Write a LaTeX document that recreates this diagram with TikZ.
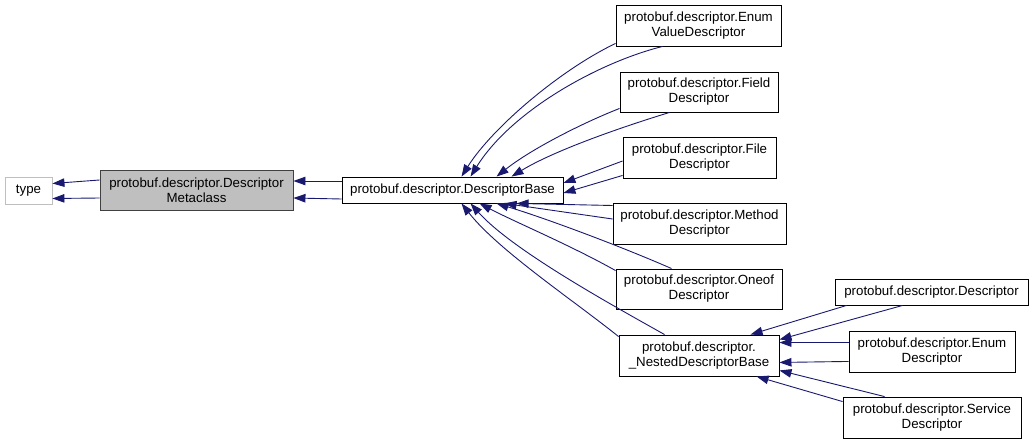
\documentclass[tikz,border=0pt]{standalone}
\usepackage{fontspec}
\setmainfont{Liberation Sans}
\usetikzlibrary{arrows.meta,calc}
\definecolor{edgeblue}{HTML}{191970}
\definecolor{metafill}{HTML}{BFBFBF}
\tikzset{
  box/.style={draw=black, line width=0.9pt, fill=white, inner sep=0pt, align=center,
    font=\fontsize{13.3}{15}\selectfont},
  inh/.style={draw=edgeblue, line width=0.9pt, -{Triangle[length=12pt,width=8.5pt]}},
}
\begin{document}
\begin{tikzpicture}[x=1pt,y=-1pt]
\useasboundingbox (0,0) rectangle (1035,444);
\node[box, draw=metafill, minimum width=47pt, minimum height=27pt] (type) at (28.5,190.5) {type};
\node[box, fill=metafill, draw=black!75, minimum width=193pt, minimum height=40pt] (meta) at (196.5,190) {protobuf.descriptor.Descriptor\\Metaclass};
\node[box, minimum width=221pt, minimum height=26pt] (base) at (452.5,190) {protobuf.descriptor.DescriptorBase};
\node[box, minimum width=165pt, minimum height=41pt] (enumval) at (698.5,25.5) {protobuf.descriptor.Enum\\ValueDescriptor};
\node[box, minimum width=158pt, minimum height=40pt] (field) at (699,92) {protobuf.descriptor.Field\\Descriptor};
\node[box, minimum width=153pt, minimum height=41pt] (file) at (699.5,157.5) {protobuf.descriptor.File\\Descriptor};
\node[box, minimum width=173pt, minimum height=41pt] (method) at (699.5,223.5) {protobuf.descriptor.Method\\Descriptor};
\node[box, minimum width=166pt, minimum height=40pt] (oneof) at (699,289) {protobuf.descriptor.Oneof\\Descriptor};
\node[box, minimum width=160pt, minimum height=41pt] (nested) at (699,355.5) {protobuf.descriptor.\\\_NestedDescriptorBase};
\node[box, minimum width=193pt, minimum height=26pt] (desc) at (931.5,292) {protobuf.descriptor.Descriptor};
\node[box, minimum width=166pt, minimum height=41pt] (enumdesc) at (932,351.5) {protobuf.descriptor.Enum\\Descriptor};
\node[box, minimum width=178pt, minimum height=41pt] (service) at (932,417.5) {protobuf.descriptor.Service\\Descriptor};

% Metaclass -> type
\draw[inh] ([yshift=10pt]meta.west) -- ([yshift=7pt]type.east);
\draw[inh] ([yshift=-8pt]meta.west) -- ([yshift=-8pt]type.east);
% Base -> Metaclass
\draw[inh] ([yshift=9pt]base.west) -- ([yshift=9pt]meta.east);
\draw[inh] ([yshift=-9pt]base.west) -- ([yshift=-8pt]meta.east);
% children -> Base (top)
\draw[inh] ([yshift=3pt]enumval.south west) .. controls (560,70) and (492,128) .. ([xshift=120pt]base.north west);
\draw[inh] ([xshift=47pt]enumval.south west) .. controls (600,62) and (512,110) .. ([xshift=129pt]base.north west);
\draw[inh] ([yshift=4pt]field.south west) .. controls (580,124) and (530,150) .. ([xshift=155pt]base.north west);
\draw[inh] ([xshift=50pt]field.south west) .. controls (625,126) and (555,150) .. ([xshift=170pt]base.north west);
% right side
\draw[inh] ([yshift=-3.5pt]file.west) -- ([yshift=7pt]base.east);
\draw[inh] ([yshift=3pt]file.south west) -- ([yshift=-3pt]base.east);
% bottom
\draw[inh] ([yshift=18pt]method.west) -- ([xshift=175pt]base.south west);
\draw[inh] ([yshift=4.5pt]method.west) -- ([xshift=163pt]base.south west);
\draw[inh] ([yshift=-2pt]oneof.north west) .. controls (570,245) and (515,222) .. ([xshift=138pt]base.south west);
\draw[inh] ([xshift=56pt]oneof.north west) .. controls (620,246) and (545,218) .. ([xshift=155pt]base.south west);
\draw[inh] ([yshift=-2pt]nested.north west) .. controls (573,300) and (498,250) .. ([xshift=120pt]base.south west);
\draw[inh] ([xshift=46pt]nested.north west) .. controls (612,305) and (512,250) .. ([xshift=129pt]base.south west);
% Nested group
\draw[inh] ([xshift=12pt]desc.south west) -- ([xshift=132pt]nested.north west);
\draw[inh] ([xshift=68pt]desc.south west) -- ([yshift=-5pt]nested.north east);
\draw[inh] ([yshift=-12pt]enumdesc.north west) -- ([yshift=-8pt]nested.north east);
\draw[inh] ([yshift=11pt]enumdesc.south west) -- ([yshift=14pt]nested.south east);
\draw[inh] ([xshift=42pt]service.north west) -- ([yshift=6pt]nested.south east);
\draw[inh] ([yshift=-5pt]service.north west) -- ([xshift=138pt]nested.south west);
\end{tikzpicture}
\end{document}
